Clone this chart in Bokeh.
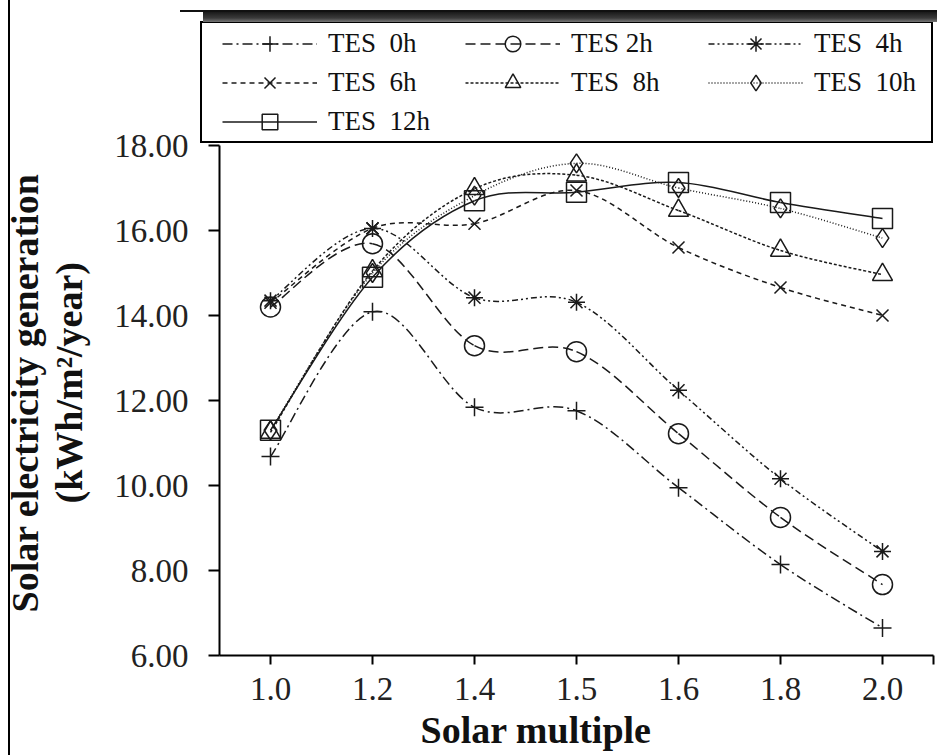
from bokeh.plotting import figure
from bokeh.models import (Range1d, FixedTicker, Legend, LegendItem, Title,
                          ColumnDataSource, PrintfTickFormatter)
from bokeh.embed import file_html
from bokeh.resources import INLINE

# ---------------- data ----------------
solar_multiple = ["1.0", "1.2", "1.4", "1.5", "1.6", "1.8", "2.0"]
tes_0h = [10.68, 14.09, 11.84, 11.76, 9.95, 8.14, 6.65]
tes_2h = [14.20, 15.69, 13.29, 13.15, 11.22, 9.25, 7.67]
tes_4h = [14.35, 16.05, 14.42, 14.31, 12.24, 10.16, 8.45]
tes_6h = [14.30, 16.05, 16.16, 16.94, 15.60, 14.66, 14.00]
tes_8h = [11.25, 15.05, 16.98, 17.30, 16.47, 15.53, 14.96]
tes_10h = [11.30, 15.00, 16.82, 17.58, 17.00, 16.52, 15.82]
tes_12h = [11.30, 14.90, 16.70, 16.90, 17.13, 16.66, 16.28]
series_labels = ["TES  0h", "TES 2h", "TES  4h", "TES  6h", "TES  8h", "TES  10h", "TES  12h"]
y_ticks = [6, 8, 10, 12, 14, 16, 18]
y_min, y_max = 6, 18
y_title_1 = "Solar electricity generation"
y_title_2 = "(kWh/m²/year)"
x_title = "Solar multiple"

series = [tes_0h, tes_2h, tes_4h, tes_6h, tes_8h, tes_10h, tes_12h]
markers = ["cross", "circle", "asterisk", "x", "triangle", "diamond", "square"]
marker_sizes = [18, 20, 17, 17, 20, 19, 20]
dashes = ["10 4 2 4", "10 5", "6 3 2 3 2 3", "5 4", "3 2", "1 2", "solid"]

FONT = "Liberation Serif"
INK = "#1a1a1a"

# layout (pixels)
W, H = 937, 755
FRAME_L, FRAME_R_PAD, FRAME_B_PAD = 219, 4, 100
PLOT_TOP_PX = 145                       # where y_max sits
frame_h = H - FRAME_B_PAD
px_per_unit = (frame_h - PLOT_TOP_PX) / (y_max - y_min)
y_top = y_min + frame_h / px_per_unit   # frame extends above y_max to hold the legend

p = figure(width=W, height=H, output_backend="svg", toolbar_location=None,
           x_range=Range1d(0, len(solar_multiple)), y_range=Range1d(y_min, y_top),
           min_border_left=FRAME_L, min_border_right=FRAME_R_PAD, min_border_top=0,
           min_border_bottom=FRAME_B_PAD)
p.title = None
p.outline_line_color = None
p.grid.visible = False
p.background_fill_alpha = 0.0
p.border_fill_alpha = 0.0

bars = [
    "linear-gradient(#000,#000) 8px 0px / 2px 100% no-repeat",          # page left border
    "linear-gradient(#111,#111) 180px 10px / 757px 2px no-repeat",       # top rule
    "linear-gradient(#1a1a1a,#3a3a3a 60%,#777) 203px 12px / 734px 10px no-repeat",  # shadow band
    "linear-gradient(#000,#000) 200px 21px / 733px 2px no-repeat",       # legend box top
    "linear-gradient(#000,#000) 200px 141px / 733px 2px no-repeat",      # legend box bottom
    "linear-gradient(#000,#000) 200px 21px / 2px 122px no-repeat",       # legend box left
    "linear-gradient(#000,#000) 931px 21px / 2px 122px no-repeat",       # legend box right
]
p.styles = {"background": ", ".join(bars) + ", white"}

xpos = [i + 0.5 for i in range(len(solar_multiple))]

# axes
p.xaxis.ticker = FixedTicker(ticks=xpos + [len(solar_multiple)])
overrides = {x: lab for x, lab in zip(xpos, solar_multiple)}
overrides[len(solar_multiple)] = ""
p.xaxis.major_label_overrides = overrides
p.yaxis.ticker = FixedTicker(ticks=y_ticks)
p.yaxis.formatter = PrintfTickFormatter(format="%.2f")
p.yaxis.bounds = (y_min, y_max)
for ax in (p.xaxis, p.yaxis):
    ax.axis_line_color = "black"
    ax.axis_line_width = 2
    ax.major_tick_line_color = "black"
    ax.major_tick_line_width = 2
    ax.minor_tick_line_color = None
    ax.major_tick_in = 0
    ax.major_label_text_font = FONT
    ax.major_label_text_font_size = "33px"
    ax.major_label_text_color = "#222"
p.yaxis.major_tick_out = 11
p.yaxis.major_label_standoff = 20
p.xaxis.major_tick_out = 9
p.xaxis.major_label_standoff = 13
# invisible spacer between tick labels and the two-line y title
p.yaxis.axis_label = " "
p.yaxis.axis_label_text_font_size = "1px"
p.yaxis.axis_label_standoff = 18

title_style = dict(text_font=FONT, text_font_style="bold", text_font_size="38px",
                   text_color="#111", text_line_height=1.0)
p.add_layout(Title(text=y_title_2, align="left", offset=152, standoff=0, **title_style), "left")
p.add_layout(Title(text=y_title_1, align="left", offset=43, standoff=0, **title_style), "left")
p.add_layout(Title(text=x_title, align="left", offset=201, standoff=9, **title_style), "below")


def smooth_segments(xs, ys):
    n = len(xs)
    d = dict(x0=[], y0=[], x1=[], y1=[], cx0=[], cy0=[], cx1=[], cy1=[])
    for i in range(n - 1):
        a = i - 1 if i > 0 else i
        b = i + 2 if i + 2 < n else i + 1
        d["x0"].append(xs[i]); d["y0"].append(ys[i])
        d["x1"].append(xs[i + 1]); d["y1"].append(ys[i + 1])
        d["cx0"].append(xs[i] + (xs[i + 1] - xs[a]) / 6.0)
        d["cy0"].append(ys[i] + (ys[i + 1] - ys[a]) / 6.0)
        d["cx1"].append(xs[i + 1] - (xs[b] - xs[i]) / 6.0)
        d["cy1"].append(ys[i + 1] - (ys[b] - ys[i]) / 6.0)
    return ColumnDataSource(d)


items = []
for ys, lab, mk, ms, dash in zip(series, series_labels, markers, marker_sizes, dashes):
    p.bezier(x0="x0", y0="y0", x1="x1", y1="y1", cx0="cx0", cy0="cy0",
             cx1="cx1", cy1="cy1", source=smooth_segments(xpos, ys),
             line_color=INK, line_width=1.5, line_dash=dash)
    lr = p.line(xpos, ys, line_color=INK, line_width=1.5, line_dash=dash, visible=False)
    mr = p.scatter(xpos, ys, marker=mk, size=ms, fill_color=None,
                   line_color=INK, line_width=1.5)
    items.append(LegendItem(label=lab, renderers=[lr, mr]))

legend = Legend(items=items, location=(0, 511), orientation="horizontal", ncols=3,
                label_text_font=FONT, label_text_font_size="27px",
                label_text_color="#111",
                glyph_width=95, glyph_height=39, label_standoff=11, label_width=137,
                spacing=0, padding=3, margin=0,
                border_line_alpha=0, background_fill_alpha=0)
p.add_layout(legend, "center")

open("out.html", "w").write(file_html(p, INLINE))
